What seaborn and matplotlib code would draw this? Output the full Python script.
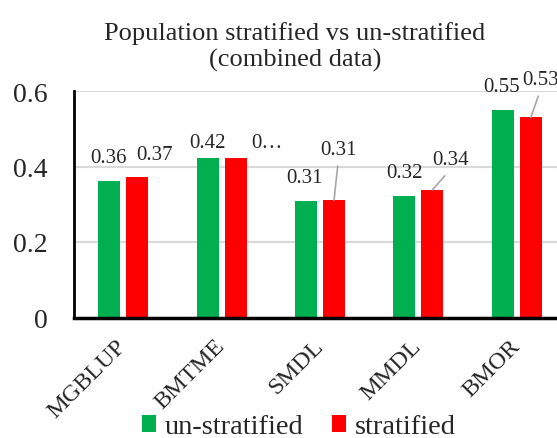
import matplotlib
matplotlib.use("Agg")
import matplotlib.pyplot as plt
from matplotlib.patches import Patch
import seaborn as sns
import pandas as pd

# ---- data ----
methods = ["MGBLUP", "BMTME", "SMDL", "MMDL", "BMOR"]
series_names = ["un-stratified", "stratified"]
unstratified = [0.362, 0.423, 0.309, 0.323, 0.55]
stratified = [0.372, 0.423, 0.311, 0.338, 0.53]
unstrat_labels = ["0.36", "0.42", "0.31", "0.32", "0.55"]
strat_labels = ["0.37", "0\u2026", "0.31", "0.34", "0.53"]
y_ticks = [0, 0.2, 0.4, 0.6]
y_ticklabels = ["0", "0.2", "0.4", "0.6"]
title = "Population stratified vs un-stratified\n(combined data)"

# ---- layout / style ----
colors = ["#00B050", "#FF0000"]
green_off = [(-1, 23), (0, 15), (-1, 23), (0, 23), (-1, 23)]
red_off = [(17.5, 23), (31, 15), (4.5, 51), (18, 30), (10, 38)]
red_leader = [False, False, True, True, True]

sns.set_style("white")
plt.rcParams["font.family"] = ["Liberation Serif", "DejaVu Serif"]

df = pd.DataFrame({
    "method": methods * 2,
    "series": [series_names[0]] * len(methods) + [series_names[1]] * len(methods),
    "value": unstratified + stratified,
})

fig = plt.figure(figsize=(5.57, 4.39), dpi=100)
ax = fig.add_axes([74 / 557, 1 - 318.5 / 439, 492 / 557, (318.5 - 92) / 439])

sns.barplot(data=df, x="method", y="value", hue="series", order=methods,
            hue_order=series_names, palette=colors, saturation=1, width=0.57, gap=0.21,
            linewidth=0, legend=False, ax=ax, zorder=3)

ax.set_xlim(-0.5, 4.5)
ax.set_ylim(0, 0.6)
ax.set_yticks(y_ticks)
ax.set_yticklabels(y_ticklabels, fontsize=20)
ax.set_xlabel("")
ax.set_ylabel("")
ax.tick_params(axis="y", length=0, pad=19)
ax.tick_params(axis="x", length=0, pad=18)
for lab in ax.get_xticklabels():
    lab.set_rotation(45)
    lab.set_ha("right")
    lab.set_va("center")
    lab.set_rotation_mode("anchor")
    lab.set_fontsize(17.5)

ax.yaxis.grid(True, color="#d9d9d9", linewidth=1.5, zorder=0)
ax.set_axisbelow(True)
for s in ["top", "right"]:
    ax.spines[s].set_visible(False)
ax.spines["left"].set_color("black")
ax.spines["left"].set_linewidth(2)
ax.spines["bottom"].set_color("black")
ax.spines["bottom"].set_linewidth(2.5)
ax.spines["bottom"].set_zorder(5)

# data labels
cont_g, cont_r = ax.containers[0], ax.containers[1]
for i, bar in enumerate(cont_g):
    x = bar.get_x() + bar.get_width() / 2
    y = bar.get_height()
    ax.annotate(unstrat_labels[i], (x, y), xytext=green_off[i],
                textcoords="offset pixels", ha="center", va="center",
                fontsize=15, annotation_clip=False)
for i, bar in enumerate(cont_r):
    x = bar.get_x() + bar.get_width() / 2
    y = bar.get_height()
    kw = {}
    if red_leader[i]:
        kw["arrowprops"] = dict(arrowstyle="-", color="#a6a6a6", lw=1.2,
                                shrinkA=3, shrinkB=0, relpos=(0.5, 0))
    ax.annotate(strat_labels[i], (x, y), xytext=red_off[i],
                textcoords="offset pixels", ha="center", va="center",
                fontsize=15, annotation_clip=False, **kw)

fig.text(295 / 557, 1 - 47 / 439, title, ha="center", va="center",
         fontsize=19, linespacing=1.2)

handles = [Patch(facecolor=c, edgecolor="none") for c in colors]
fig.legend(handles, series_names, loc="center", bbox_to_anchor=(299 / 557, 1 - 428 / 439),
           ncol=2, frameon=False, fontsize=20.5, handlelength=0.5, handleheight=0.5,
           handletextpad=0.3, columnspacing=1.0, borderpad=0, borderaxespad=0)

fig.savefig("out.png", dpi=100)
